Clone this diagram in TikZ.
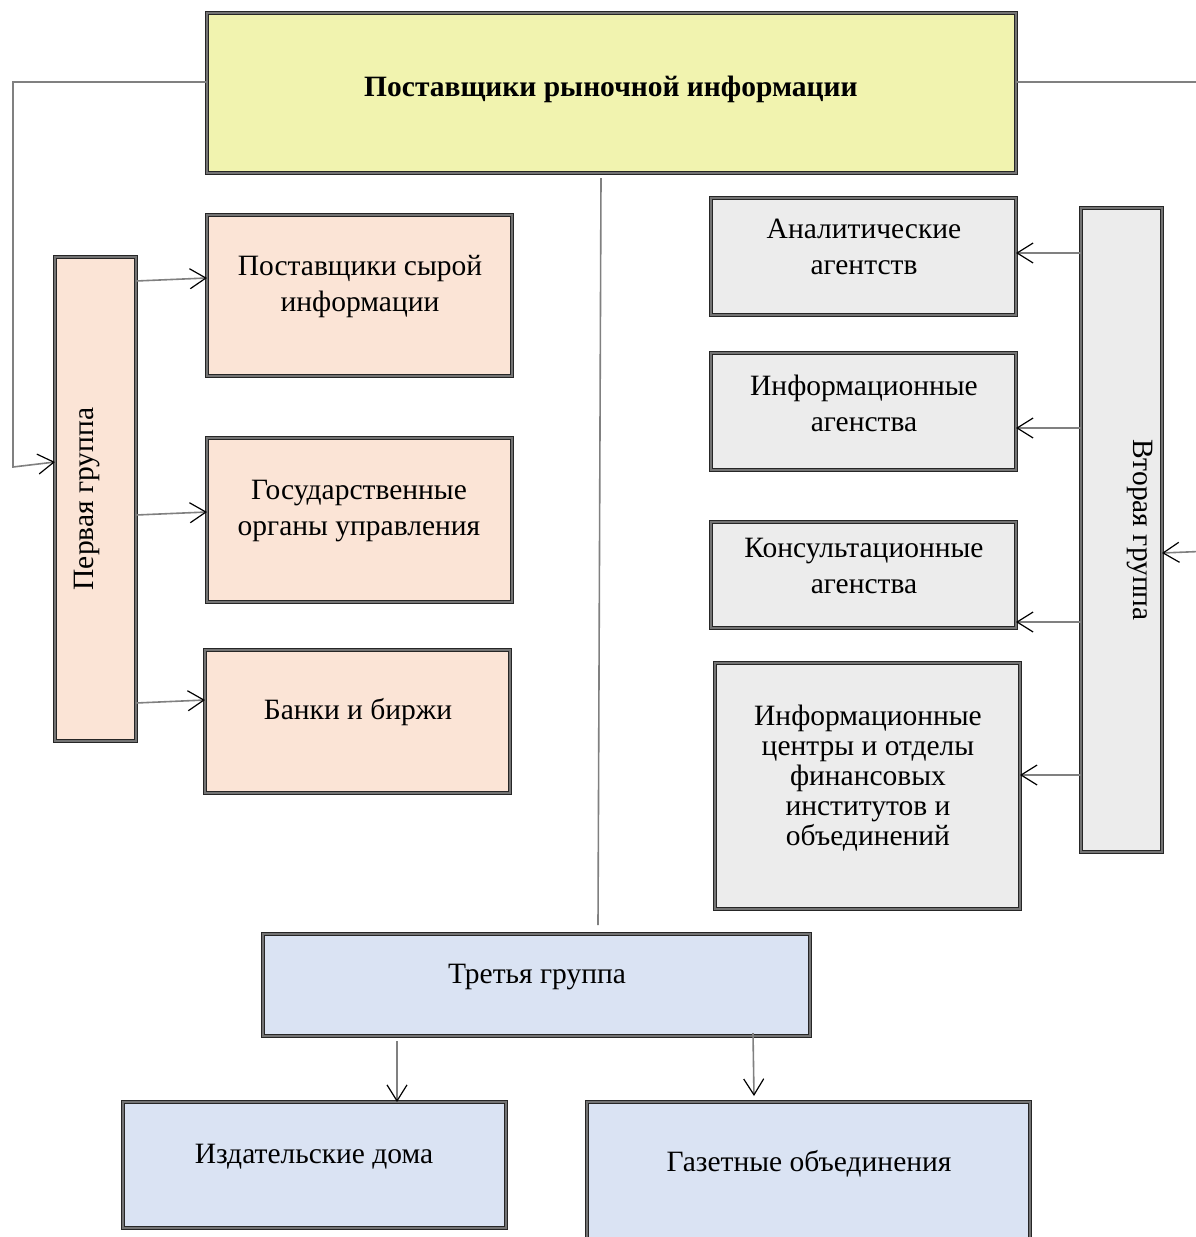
\documentclass[tikz,border=0pt]{standalone}
\usepackage{fontspec}
\setmainfont{Liberation Serif}
\usetikzlibrary{arrows.meta}
\definecolor{titlefill}{HTML}{F1F3AF}
\definecolor{peach}{HTML}{FBE4D6}
\definecolor{greyfill}{HTML}{ECECEC}
\definecolor{bluefill}{HTML}{DAE3F3}
\definecolor{wire}{HTML}{808080}
\begin{document}
\begin{tikzpicture}[x=1pt,y=-1pt,
  box/.style={rectangle, draw=black!85, double=black!55, double distance=1.5pt,
    line width=0.9pt, inner sep=0pt, outer sep=0pt},
  lbl/.style={font=\fontsize{29.5}{36}\selectfont, align=center, inner sep=0pt},
  link/.style={draw=wire, line width=1.6pt},
  arr/.style={link, -{Straight Barb[length=16pt,width=20pt,black,line width=1.2pt]}},
]
\useasboundingbox (0,0) rectangle (1196,1237);

% boxes
\node[box, fill=titlefill, minimum width=809pt, minimum height=160pt] (title) at (611.5,93) {};
\node[box, fill=peach, minimum width=81pt, minimum height=484pt] (first) at (95.5,499) {};
\node[box, fill=peach, minimum width=305pt, minimum height=161pt] (raw) at (359.5,295.5) {};
\node[box, fill=peach, minimum width=305pt, minimum height=164pt] (gov) at (359.5,520) {};
\node[box, fill=peach, minimum width=305pt, minimum height=143pt] (bank) at (357.5,721.5) {};
\node[box, fill=greyfill, minimum width=305pt, minimum height=117pt] (anal) at (863.5,256.5) {};
\node[box, fill=greyfill, minimum width=305pt, minimum height=117pt] (info) at (863.5,411.5) {};
\node[box, fill=greyfill, minimum width=305pt, minimum height=106pt] (cons) at (863.5,575) {};
\node[box, fill=greyfill, minimum width=305pt, minimum height=246pt] (cent) at (867.5,786) {};
\node[box, fill=greyfill, minimum width=81pt, minimum height=644pt] (second) at (1121.5,530) {};
\node[box, fill=bluefill, minimum width=547pt, minimum height=102pt] (third) at (536.5,985) {};
\node[box, fill=bluefill, minimum width=383pt, minimum height=126pt] (publ) at (314.5,1165) {};
\node[box, fill=bluefill, minimum width=443pt, minimum height=140pt] (news) at (808.5,1172) {};

% texts
\node[lbl, font=\fontsize{29.5}{36}\selectfont\bfseries] (titletext) at (611,89) {Поставщики рыночной информации};
\node[lbl, rotate=90] (firsttext) at (87,499) {Первая группа};
\node[lbl] (rawtext) at (360,287) {Поставщики сырой\\информации};
\node[lbl] (govtext) at (359,511) {Государственные\\органы управления};
\node[lbl] (banktext) at (358,712) {Банки и биржи};
\node[lbl] (analtext) at (864,247) {Аналитические\\агентств};
\node[lbl] (infotext) at (864,403) {Информационные\\агенства};
\node[lbl] (constext) at (864,566) {Консультационные\\агенства};
\node[lbl, font=\fontsize{29.5}{30}\selectfont] (centtext) at (868,778)
  {Информационные\\центры и отделы\\финансовых\\институтов и\\объединений};
\node[lbl, rotate=-90] (secondtext) at (1140,530) {Вторая группа};
\node[lbl] (thirdtext) at (537,977) {Третья группа};
\node[lbl] (publtext) at (314,1157) {Издательские дома};
\node[lbl] (newstext) at (809,1164) {Газетные объединения};

% connectors from the title
\coordinate (lcorner) at (13,82);
\coordinate (lbottom) at (13,467);
\draw[arr] (title.west |- lcorner) -- (lcorner) -- (lbottom) -- (first.west |- 0,462);
\coordinate (rcorner) at (1212,82);
\coordinate (rbottom) at (1212,551);
\draw[arr] (title.east |- rcorner) -- (rcorner) -- (rbottom) -- (second.east |- 0,553);
\coordinate (midtop) at (601,178);
\coordinate (midbot) at (598,925);
\draw[link] (midtop) -- (midbot);

% first group
\draw[arr] (first.east |- 0,281) -- (raw.west |- 0,278);
\draw[arr] (first.east |- 0,515) -- (gov.west |- 0,512);
\draw[arr] (first.east |- 0,703) -- (bank.west |- 0,700);

% second group
\draw[arr] (second.west |- 0,253) -- (anal.east |- 0,253);
\draw[arr] (second.west |- 0,428) -- (info.east |- 0,428);
\draw[arr] (second.west |- 0,622) -- (cons.east |- 0,622);
\draw[arr] (second.west |- 0,775) -- (cent.east |- 0,775);

% third group
\coordinate (pubstart) at (397,1041);
\coordinate (newsstart) at (753,1033);
\coordinate (newstip) at (754,1096);
\draw[arr] (pubstart) -- (publ.north -| pubstart);
\draw[arr] (newsstart) -- (newstip);
\end{tikzpicture}
\end{document}
